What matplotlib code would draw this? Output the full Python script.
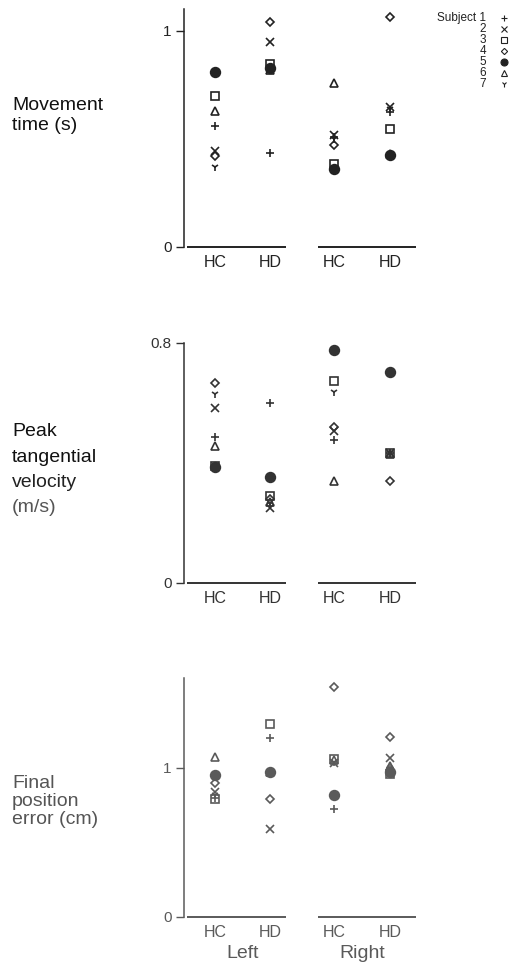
import matplotlib.pyplot as plt
from matplotlib.transforms import blended_transform_factory

plt.rcParams['font.family'] = ['Liberation Sans', 'DejaVu Sans']

# subjects 1..7 and their symbols
subjects = ['1', '2', '3', '4', '5', '6', '7']
markers = ['+', 'x', 's', 'D', 'o', '^', '1']
marker_sizes = [5.8, 5.2, 6.2, 4.4, 7.0, 5.2, 6.2]
filled = [False, False, False, False, True, False, False]

conditions = ['HC', 'HD', 'HC', 'HD']
cond_x = [0, 1, 2.16, 3.18]
sides = ['Left', 'Right']
side_x = [0.5, 2.67]

# rows: HC left, HD left, HC right, HD right ; columns: subject 1..7
movement_time = [
    [0.56, 0.446, 0.70, 0.42, 0.81, 0.63, 0.37],
    [0.434, 0.95, 0.847, 1.04, 0.827, 0.82, 0.82],
    [0.51, 0.52, 0.384, 0.47, 0.36, 0.76, 0.50],
    [0.625, 0.65, 0.545, 1.066, 0.426, 0.43, 0.64],
]
peak_velocity = [
    [0.488, 0.582, 0.39, 0.666, 0.388, 0.457, 0.63],
    [0.60, 0.25, 0.29, 0.28, 0.352, 0.27, 0.265],
    [0.477, 0.508, 0.674, 0.519, 0.777, 0.34, 0.638],
    [0.435, 0.435, 0.435, 0.34, 0.704, 0.43, 0.435],
]
position_error = [
    [0.80, 0.84, 0.79, 0.90, 0.95, 1.07, 0.82],
    [1.20, 0.59, 1.29, 0.79, 0.968, 0.97, 0.96],
    [0.725, 1.03, 1.06, 1.54, 0.82, 1.05, 1.04],
    [1.00, 1.065, 0.96, 1.206, 0.97, 1.01, 1.00],
]

W, H = 511, 969
fig = plt.figure(figsize=(W / 100, H / 100), dpi=100)

panels = [
    # data, ytop, yticks, ticklabels, color, bottom px, top px, label lines, label ys, label colors
    (movement_time, 1.1, [0, 1], ['0', '1'], '#222222', 247, 9.4,
     ['Movement', 'time (s)'], [105, 125], ['#111111', '#111111']),
    (peak_velocity, 0.8, [0, 0.8], ['0', '0.8'], '#333333', 583, 343,
     ['Peak', 'tangential', 'velocity', '(m/s)'], [432, 457, 482, 507],
     ['#111111', '#111111', '#222222', '#555555']),
    (position_error, 1.6, [0, 1], ['0', '1'], '#5a5a5a', 917, 678,
     ['Final', 'position', 'error (cm)'], [783, 802, 820],
     ['#555555', '#555555', '#555555']),
]

ax_left_px, ax_right_px = 184, 420
unit_px = 55.0
x0 = -(215 - ax_left_px) / unit_px
x1 = x0 + (ax_right_px - ax_left_px) / unit_px
group_lines = [(-0.51, 1.29), (1.87, 3.65)]

for pi, (data, ytop, yt, ytl, col, bpx, tpx, lab, labys, labcols) in enumerate(panels):
    ax = fig.add_axes([ax_left_px / W, 1 - bpx / H,
                       (ax_right_px - ax_left_px) / W, (bpx - tpx) / H])
    ax.set_xlim(x0, x1)
    ax.set_ylim(0, ytop)
    for s in ['top', 'right', 'bottom']:
        ax.spines[s].set_visible(False)
    ax.spines['left'].set_color(col)
    ax.spines['left'].set_linewidth(1.1)
    ax.set_yticks(yt)
    ax.set_yticklabels(ytl)
    ax.tick_params(axis='y', direction='out', length=6, width=1.0, color=col,
                   labelsize=11, labelcolor=col, pad=3)
    ax.set_xticks(cond_x)
    ax.set_xticklabels(conditions)
    ax.tick_params(axis='x', length=0, labelsize=11.5, labelcolor=col, pad=6)
    for gx in group_lines:
        ax.plot(gx, [0, 0], color=col, lw=1.4, clip_on=False, solid_capstyle='butt')

    for i in range(len(subjects)):
        vals = [row[i] for row in data]
        ax.plot(cond_x, vals, linestyle='none', marker=markers[i],
                markersize=marker_sizes[i], markeredgewidth=1.2,
                color=col, markeredgecolor=col,
                markerfacecolor=col if filled[i] else 'none', clip_on=False)

    for txt, yy, c in zip(lab, labys, labcols):
        fig.text(12 / W, 1 - yy / H, txt, fontsize=14, color=c, va='center', ha='left')

    if pi == 2:
        tr = blended_transform_factory(ax.transData, ax.transAxes)
        for sx, sname in zip(side_x, sides):
            ax.text(sx, -36 / (bpx - tpx), sname, transform=tr, fontsize=14,
                    color=col, ha='center', va='center')

# legend of subjects, top right
leg = fig.add_axes([0, 0, 1, 1])
leg.set_xlim(0, W)
leg.set_ylim(H, 0)
leg.axis('off')
row_y = [18, 29, 40, 51, 62, 73, 84]
for i, s in enumerate(subjects):
    name = 'Subject ' + s if i == 0 else s
    leg.text(486, row_y[i], name, fontsize=8.5, ha='right', va='center', color='#222222')
    leg.plot([504], [row_y[i]], marker=markers[i], markersize=marker_sizes[i] * 0.72,
             markeredgewidth=0.8, color='#222222',
             markerfacecolor='#222222' if filled[i] else 'none', linestyle='none')

fig.savefig('out.png', dpi=100)
